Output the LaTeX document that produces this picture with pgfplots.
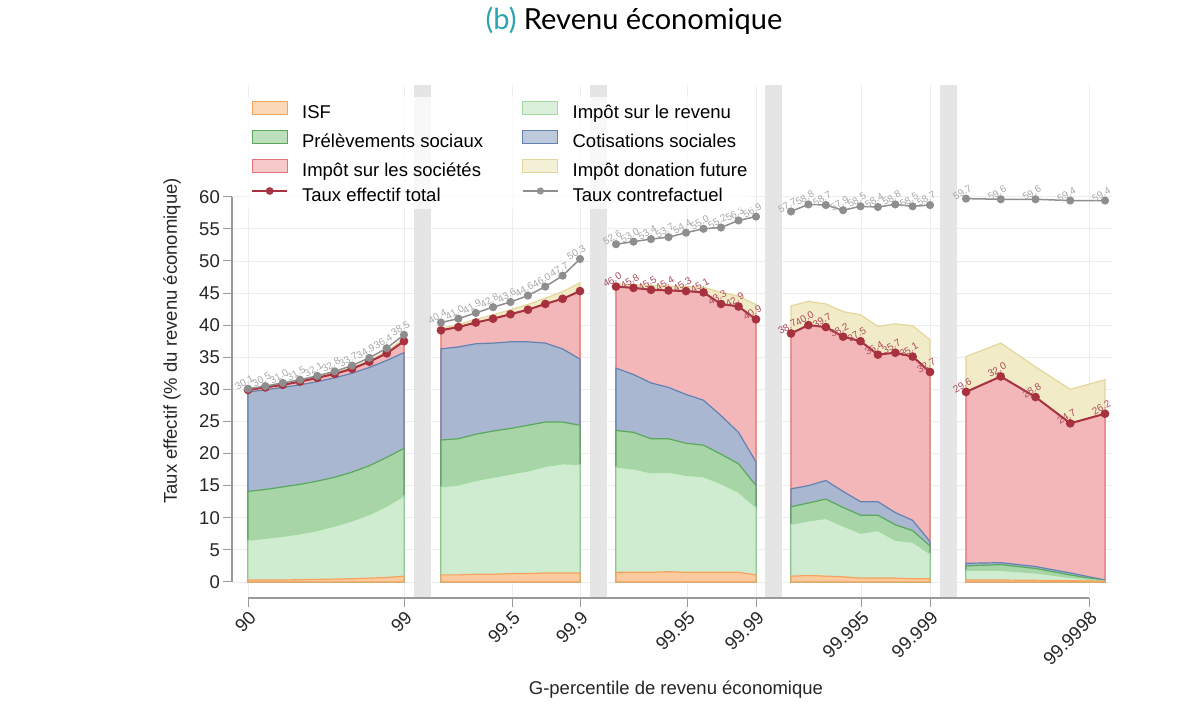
\documentclass[border=0pt]{standalone}
\usepackage{pgfplots}
\pgfplotsset{compat=1.18}
\usepackage{pgfplotstable}
\usepackage{fontspec}
\setmainfont{Liberation Sans}
\newfontfamily\titlefont{Lato}

\definecolor{isfF}{HTML}{FBCB9E}
\definecolor{isfL}{HTML}{F5A35E}
\definecolor{irF}{HTML}{D0ECD0}
\definecolor{irL}{HTML}{A3D8A3}
\definecolor{psF}{HTML}{A7D5A7}
\definecolor{psL}{HTML}{5AA85C}
\definecolor{csF}{HTML}{A9B7D1}
\definecolor{csL}{HTML}{6282B2}
\definecolor{isF}{HTML}{F3B7BA}
\definecolor{isL}{HTML}{E5747C}
\definecolor{donF}{HTML}{F1EBC8}
\definecolor{donL}{HTML}{E3D79A}
\definecolor{totC}{HTML}{A8313F}
\definecolor{cfC}{HTML}{8E8E8E}
\definecolor{totLab}{HTML}{B04A5A}
\definecolor{cfLab}{HTML}{A8A8A8}
\definecolor{bandC}{HTML}{E5E5E5}
\definecolor{gridC}{HTML}{EDEDED}
\definecolor{axC}{HTML}{9A9A9A}
\definecolor{titleC}{HTML}{2AA3B2}

% columns: x position, cumulative tops of ISF, IR, PS, CS, IS (= total), donation; counterfactual
\pgfplotstableread{
x     isf  ir   ps   cs   is   don  cf
248   0.3  6.5  14.1 29.6 29.9 30.0 30.1
265.3 0.3  6.8  14.4 29.9 30.3 30.4 30.5
282.7 0.3  7.1  14.8 30.3 30.7 30.8 31.0
300   0.35 7.5  15.2 30.7 31.2 31.3 31.5
317.3 0.4  8.0  15.7 31.2 31.8 31.9 32.1
334.7 0.45 8.7  16.3 31.8 32.4 32.6 32.8
352   0.5  9.5  17.1 32.5 33.2 33.4 33.7
369.3 0.6  10.5 18.1 33.4 34.3 34.5 34.9
386.7 0.7  11.8 19.4 34.5 35.6 35.9 36.4
404   0.9  13.4 20.8 35.7 37.5 37.9 38.5
}\segA
\pgfplotstableread{
x     isf  ir   ps   cs   is   don  cf
441   1.1  14.8 22.1 36.3 39.2 39.5 40.4
458.4 1.1  15.1 22.3 36.6 39.7 40.1 41.0
475.8 1.2  15.8 23.0 37.1 40.4 40.9 41.9
493.1 1.2  16.3 23.5 37.2 41.0 41.6 42.8
510.5 1.3  16.8 23.9 37.4 41.7 42.4 43.6
527.9 1.3  17.3 24.4 37.4 42.4 43.2 44.6
545.3 1.4  18.0 24.9 37.2 43.3 44.2 46.0
562.6 1.4  18.4 24.9 36.3 44.1 45.2 47.7
580   1.4  18.3 24.4 34.7 45.3 46.6 50.3
}\segB
\pgfplotstableread{
x     isf  ir   ps   cs   is   don  cf
616   1.5  17.9 23.6 33.3 46.0 46.4 52.6
633.5 1.5  17.6 23.3 32.3 45.8 46.3 53.0
651   1.5  17.0 22.3 31.0 45.5 46.2 53.4
668.5 1.6  17.1 22.3 30.3 45.4 46.1 53.7
686   1.5  16.6 21.6 29.2 45.3 46.0 54.4
703.5 1.5  16.4 21.3 28.3 45.1 45.9 55.0
721   1.5  15.3 19.9 25.9 43.3 45.1 55.2
738.5 1.5  14.0 18.4 23.3 42.9 44.5 56.3
756   1.1  11.6 15.0 18.7 40.9 43.2 56.9
}\segC
\pgfplotstableread{
x     isf  ir   ps   cs   is   don  cf
791   0.9  9.0  11.7 14.5 38.7 43.0 57.7
808.4 1.0  9.5  12.3 15.0 40.0 43.7 58.8
825.8 0.9  9.9  12.9 15.8 39.7 43.3 58.7
843.1 0.8  8.7  11.6 14.1 38.2 42.1 57.9
860.5 0.6  7.6  10.4 12.5 37.5 41.6 58.5
877.9 0.6  8.0  10.4 12.5 35.4 39.8 58.4
895.3 0.6  6.5  8.9  10.8 35.7 40.2 58.8
912.6 0.5  6.2  8.0  9.6  35.1 39.9 58.5
930   0.5  4.4  5.6  6.3  32.7 37.7 58.7
}\segD
\pgfplotstableread{
x       isf  ir   ps   cs   is   don  cf
966     0.3  1.8  2.5  2.9  29.6 35.1 59.7
1000.75 0.3  1.8  2.7  3.0  32.0 37.2 59.6
1035.5  0.25 1.4  2.1  2.4  28.8 33.5 59.6
1070.25 0.2  0.7  1.1  1.4  24.7 30.0 59.4
1105    0.1  0.15 0.2  0.3  26.2 31.5 59.4
}\segE

\newcommand\layers[1]{%
  \addplot[fill=donF, draw=donL, line width=1.2pt, forget plot] table[x=x,y=don]{#1} \closedcycle;
  \addplot[fill=isF, draw=isL, line width=1.2pt, forget plot] table[x=x,y=is]{#1} \closedcycle;
  \addplot[fill=csF, draw=csL, line width=1.2pt, forget plot] table[x=x,y=cs]{#1} \closedcycle;
  \addplot[fill=psF, draw=psL, line width=1.2pt, forget plot] table[x=x,y=ps]{#1} \closedcycle;
  \addplot[fill=irF, draw=irL, line width=1.2pt, forget plot] table[x=x,y=ir]{#1} \closedcycle;
  \addplot[fill=isfF, draw=isfL, line width=1.2pt, forget plot] table[x=x,y=isf]{#1} \closedcycle;
}
\pgfplotsset{
  labelstyle/.style={
    nodes near coords={\pgfmathprintnumber[fixed,fixed zerofill,precision=1]{\pgfplotspointmeta}},
    point meta=y,
    every node near coord/.style={rotate=30, anchor=south, inner sep=1pt, yshift=2pt,
      font=\fontsize{10}{10}\selectfont, text=#1},
  },
  totstyle/.style={totC, line width=2pt, mark=*, mark size=3.3pt, mark options={fill=totC, draw=totC}, forget plot},
  cfstyle/.style={cfC, line width=1.5pt, mark=*, mark size=3.3pt, mark options={fill=cfC, draw=cfC}, forget plot},
}

\begin{document}
\begin{tikzpicture}[x=1pt,y=1pt]
\path[use as bounding box] (0,0) rectangle (1200,714);
\begin{axis}[
  at={(232pt,116pt)}, anchor=south west,
  scale only axis, width=880pt, height=513pt,
  xmin=232, xmax=1112, ymin=-2.5, ymax=77.4,
  clip=false,
  axis x line*=bottom, axis y line*=left,
  axis line style={draw=none},
  xtick={248,404,512,580,687,756,861,930,1089},
  xticklabels={90,99,99.5,99.9,99.95,99.99,99.995,99.999,99.9998},
  ytick={0,5,...,60},
  tick align=outside, major tick length=9pt,
  tick style={draw=axC, line width=1pt},
  xmajorgrids, ymajorgrids, grid style={draw=gridC, line width=0.8pt},
  /pgf/number format/assume math mode=true,
  ticklabel style={font=\fontsize{18.5}{19}\selectfont, text=black!85},
  xticklabel style={rotate=45, anchor=north east, inner sep=2pt},
  yticklabel style={inner sep=3pt},
  xlabel={G-percentile de revenu économique},
  xlabel style={at={(axis description cs:0.5045,-0.1793)}, anchor=center, font=\fontsize{18.5}{19}\selectfont, text=black!85},
  ylabel={Taux effectif (\% du revenu économique)},
  ylabel style={at={(axis description cs:-0.0682,0.501)}, anchor=center, rotate=0, font=\fontsize{18.5}{19}\selectfont, text=black!85},
  title={\textcolor{titleC}{(b)} Revenu économique},
  title style={at={(axis description cs:0.4568,1.113)}, anchor=center, font=\titlefont\fontsize{29}{32}\selectfont},
  legend columns=2,
  legend cell align=left,
  legend style={at={(axis description cs:0.017,0.9766)}, anchor=north west,
    draw=none, fill=white, fill opacity=0.75, text opacity=1, inner sep=4pt,
    font=\fontsize{18.5}{19}\selectfont, row sep=7.5pt,
    nodes={inner sep=0pt, text height=13.5pt, text depth=4pt},
    /tikz/every odd column/.append style={column sep=14pt},
    /tikz/every even column/.append style={column sep=39pt}},
]
\addlegendimage{legend image code/.code={\draw[fill=isfF,draw=isfL,line width=1.2pt] (0pt,-1pt) rectangle (35pt,12pt);}}
\addlegendentry{ISF}
\addlegendimage{legend image code/.code={\draw[fill=irF,draw=irL,line width=1.2pt] (0pt,-1pt) rectangle (35pt,12pt);}}
\addlegendentry{Impôt sur le revenu}
\addlegendimage{legend image code/.code={\draw[fill=psF,draw=psL,line width=1.2pt] (0pt,-1pt) rectangle (35pt,12pt);}}
\addlegendentry{Prélèvements sociaux}
\addlegendimage{legend image code/.code={\draw[fill=csF,draw=csL,line width=1.2pt] (0pt,-1pt) rectangle (35pt,12pt);}}
\addlegendentry{Cotisations sociales}
\addlegendimage{legend image code/.code={\draw[fill=isF,draw=isL,line width=1.2pt] (0pt,-1pt) rectangle (35pt,12pt);}}
\addlegendentry{Impôt sur les sociétés}
\addlegendimage{legend image code/.code={\draw[fill=donF,draw=donL,line width=1.2pt] (0pt,-1pt) rectangle (35pt,12pt);}}
\addlegendentry{Impôt donation future}
\addlegendimage{legend image code/.code={\draw[totC,line width=2pt,mark=*,mark size=2.8pt,mark options={fill=totC},mark repeat=2,mark phase=2] plot coordinates {(0pt,5.5pt) (17.5pt,5.5pt) (35pt,5.5pt)};}}
\addlegendentry{Taux effectif total}
\addlegendimage{legend image code/.code={\draw[cfC,line width=1.5pt,mark=*,mark size=2.8pt,mark options={fill=cfC},mark repeat=2,mark phase=2] plot coordinates {(0pt,5.5pt) (17.5pt,5.5pt) (35pt,5.5pt)};}}
\addlegendentry{Taux contrefactuel}

% segment separators
\fill[bandC] (axis cs:414,-2.5) rectangle (axis cs:431,77.4);
\fill[bandC] (axis cs:590,-2.5) rectangle (axis cs:607,77.4);
\fill[bandC] (axis cs:765,-2.5) rectangle (axis cs:782,77.4);
\fill[bandC] (axis cs:940,-2.5) rectangle (axis cs:957,77.4);

\layers{\segA}
\layers{\segB}
\layers{\segC}
\layers{\segD}
\layers{\segE}

\addplot[totstyle] table[x=x,y=is]{\segA};
\addplot[totstyle] table[x=x,y=is]{\segB};
\addplot[totstyle, labelstyle=totLab] table[x=x,y=is]{\segC};
\addplot[totstyle, labelstyle=totLab] table[x=x,y=is]{\segD};
\addplot[totstyle, labelstyle=totLab] table[x=x,y=is]{\segE};

\addplot[cfstyle, labelstyle=cfLab] table[x=x,y=cf]{\segA};
\addplot[cfstyle, labelstyle=cfLab] table[x=x,y=cf]{\segB};
\addplot[cfstyle, labelstyle=cfLab] table[x=x,y=cf]{\segC};
\addplot[cfstyle, labelstyle=cfLab] table[x=x,y=cf]{\segD};
\addplot[cfstyle, labelstyle=cfLab] table[x=x,y=cf]{\segE};

\draw[axC, line width=1.2pt] (axis cs:232,0) -- (axis cs:232,60);
\draw[axC, line width=1.2pt] (axis cs:248,-2.5) -- (axis cs:1089,-2.5);
\end{axis}
\end{tikzpicture}
\end{document}
